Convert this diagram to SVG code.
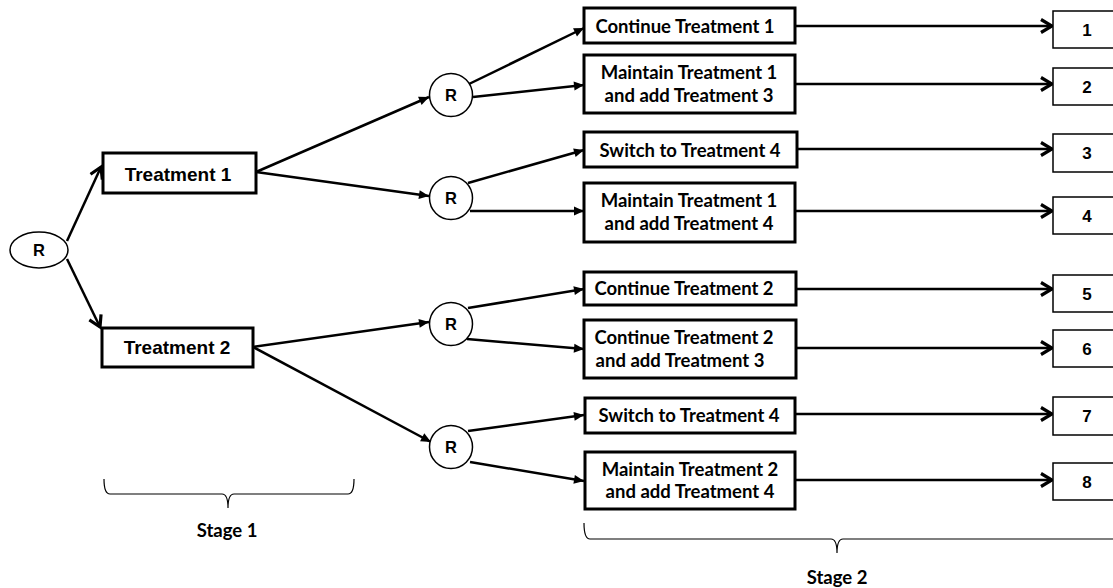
<svg xmlns="http://www.w3.org/2000/svg" width="1113" height="588" viewBox="0 0 1113 588">
<style>
.box{fill:#fff;stroke:#000;stroke-width:3}
.out{fill:#fff;stroke:#000;stroke-width:1.5}
.rn{fill:#fff;stroke:#000;stroke-width:1.5}
.ar{font-family:"Liberation Sans",Arial,sans-serif;font-weight:bold;fill:#000;text-anchor:middle}
.cb{font-family:Lato,"Open Sans",sans-serif;font-weight:bold;fill:#000;text-anchor:middle;font-size:18.5px}
.ln{stroke:#000;stroke-width:2.5;fill:none}
.br{stroke:#000;stroke-width:1.2;fill:none}
</style>
<defs>
<marker id="chev" markerUnits="userSpaceOnUse" markerWidth="16" markerHeight="16" viewBox="-12 -8 14 16" refX="0" refY="0" orient="auto">
<path d="M-11,-6.5 L0,0 L-11,6.5" fill="none" stroke="#000" stroke-width="3.2"/>
</marker>
<marker id="tri" markerUnits="userSpaceOnUse" markerWidth="14" markerHeight="10" viewBox="-11 -5 12 10" refX="0" refY="0" orient="auto">
<path d="M-10,-4.5 L0,0 L-10,4.5 Z" fill="#000"/>
</marker>
</defs>
<g id="connectors">
<line class="ln" x1="67" y1="241" x2="101" y2="167" marker-end="url(#chev)"/>
<line class="ln" x1="67" y1="259" x2="100" y2="327" marker-end="url(#chev)"/>
<line class="ln" x1="256" y1="172" x2="429" y2="97" marker-end="url(#tri)"/>
<line class="ln" x1="256" y1="172" x2="429" y2="196" marker-end="url(#tri)"/>
<line class="ln" x1="253" y1="347" x2="429" y2="322" marker-end="url(#tri)"/>
<line class="ln" x1="253" y1="347" x2="431" y2="442" marker-end="url(#tri)"/>
<line class="ln" x1="469" y1="84" x2="584" y2="28" marker-end="url(#tri)"/>
<line class="ln" x1="473" y1="97" x2="584" y2="85" marker-end="url(#tri)"/>
<line class="ln" x1="468" y1="183" x2="584" y2="150" marker-end="url(#tri)"/>
<line class="ln" x1="470" y1="211" x2="584" y2="211" marker-end="url(#tri)"/>
<line class="ln" x1="468" y1="308" x2="584" y2="289" marker-end="url(#tri)"/>
<line class="ln" x1="467" y1="339" x2="584" y2="349" marker-end="url(#tri)"/>
<line class="ln" x1="468" y1="431" x2="584" y2="415" marker-end="url(#tri)"/>
<line class="ln" x1="470" y1="462" x2="584" y2="481" marker-end="url(#tri)"/>
<line class="ln" x1="795" y1="26" x2="1052" y2="26" marker-end="url(#chev)"/>
<line class="ln" x1="795" y1="84" x2="1052" y2="84" marker-end="url(#chev)"/>
<line class="ln" x1="797" y1="149" x2="1052" y2="149" marker-end="url(#chev)"/>
<line class="ln" x1="795" y1="211" x2="1052" y2="211" marker-end="url(#chev)"/>
<line class="ln" x1="796" y1="289" x2="1052" y2="289" marker-end="url(#chev)"/>
<line class="ln" x1="796" y1="348" x2="1052" y2="348" marker-end="url(#chev)"/>
<line class="ln" x1="795" y1="414" x2="1052" y2="414" marker-end="url(#chev)"/>
<line class="ln" x1="795" y1="480" x2="1052" y2="480" marker-end="url(#chev)"/>
</g>
<g id="r0"><ellipse class="rn" cx="39" cy="250" rx="29" ry="18"/><text class="ar" x="39" y="256" font-size="16.5">R</text></g>
<g id="t1"><rect class="box" x="103" y="153" width="153" height="40"/><text class="ar" x="178" y="181" font-size="19">Treatment 1</text></g>
<g id="t2"><rect class="box" x="102" y="328" width="151" height="39"/><text class="ar" x="177" y="354" font-size="19">Treatment 2</text></g>
<g id="r1"><circle class="rn" cx="451" cy="95" r="21.5"/><text class="ar" x="451" y="101" font-size="16.5">R</text></g>
<g id="r2"><circle class="rn" cx="451" cy="198" r="21.5"/><text class="ar" x="451" y="204" font-size="16.5">R</text></g>
<g id="r3"><circle class="rn" cx="451" cy="324" r="21.5"/><text class="ar" x="451" y="330" font-size="16.5">R</text></g>
<g id="r4"><circle class="rn" cx="451" cy="447" r="21.5"/><text class="ar" x="451" y="453" font-size="16.5">R</text></g>
<g id="a1"><rect class="box" x="584" y="8" width="211" height="35"/><text class="cb" x="685" y="33">Continue Treatment 1</text></g>
<g id="a2"><rect class="box" x="584" y="55" width="211" height="58"/><text class="cb" x="689" y="79">Maintain Treatment 1</text><text class="cb" x="689" y="102">and add Treatment 3</text></g>
<g id="a3"><rect class="box" x="584" y="132" width="213" height="35"/><text class="cb" x="690" y="157">Switch to Treatment 4</text></g>
<g id="a4"><rect class="box" x="584" y="183" width="211" height="59"/><text class="cb" x="689" y="207">Maintain Treatment 1</text><text class="cb" x="689" y="230">and add Treatment 4</text></g>
<g id="b1"><rect class="box" x="584" y="272" width="212" height="33"/><text class="cb" x="684" y="295">Continue Treatment 2</text></g>
<g id="b2"><rect class="box" x="584" y="320" width="212" height="58"/><text class="cb" x="684" y="344">Continue Treatment 2</text><text class="cb" x="680" y="367">and add Treatment 3</text></g>
<g id="b3"><rect class="box" x="585" y="398" width="210" height="35"/><text class="cb" x="689" y="422">Switch to Treatment 4</text></g>
<g id="b4"><rect class="box" x="585" y="452" width="210" height="57"/><text class="cb" x="690" y="476">Maintain Treatment 2</text><text class="cb" x="690" y="498">and add Treatment 4</text></g>
<g id="o1"><rect class="out" x="1053" y="11" width="70" height="37"/><text class="ar" x="1087" y="36" font-size="17">1</text></g>
<g id="o2"><rect class="out" x="1053" y="68" width="70" height="37"/><text class="ar" x="1087" y="93" font-size="17">2</text></g>
<g id="o3"><rect class="out" x="1053" y="134" width="70" height="38"/><text class="ar" x="1087" y="159" font-size="17">3</text></g>
<g id="o4"><rect class="out" x="1053" y="197" width="70" height="37"/><text class="ar" x="1087" y="222" font-size="17">4</text></g>
<g id="o5"><rect class="out" x="1053" y="275" width="70" height="37"/><text class="ar" x="1087" y="300" font-size="17">5</text></g>
<g id="o6"><rect class="out" x="1053" y="330" width="70" height="37"/><text class="ar" x="1087" y="355" font-size="17">6</text></g>
<g id="o7"><rect class="out" x="1053" y="397" width="70" height="38"/><text class="ar" x="1087" y="422" font-size="17">7</text></g>
<g id="o8"><rect class="out" x="1053" y="463" width="70" height="37"/><text class="ar" x="1087" y="488" font-size="17">8</text></g>
<g id="stage1">
<path class="br" d="M104,479 Q104,494 110,494 L222,494 Q228,494 228,508 Q228,494 234,494 L348,494 Q354,494 354,479"/>
<text class="cb" x="227" y="537" font-size="22">Stage 1</text>
</g>
<g id="stage2">
<path class="br" d="M584,523 Q584,539 590,539 L831,539 Q837,539 837,553 Q837,539 843,539 L1113,539"/>
<text class="cb" x="837" y="584" font-size="22">Stage 2</text>
</g>
</svg>
